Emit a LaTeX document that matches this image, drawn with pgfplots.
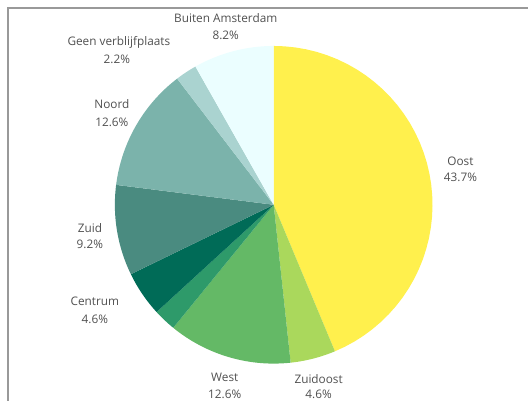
\documentclass[border=0pt]{standalone}
\usepackage{pgfplots}
\usepackage{pgfplotstable}
\pgfplotsset{compat=1.18}
\usepackage{fontspec}
\setmainfont{Open Sans}
\definecolor{slice0}{HTML}{FFF04D}
\definecolor{slice1}{HTML}{AAD85C}
\definecolor{slice2}{HTML}{64B966}
\definecolor{slice3}{HTML}{2E9A6A}
\definecolor{slice4}{HTML}{006B57}
\definecolor{slice5}{HTML}{4A8B80}
\definecolor{slice6}{HTML}{7BB3AB}
\definecolor{slice7}{HTML}{AAD3D0}
\definecolor{slice8}{HTML}{EBFEFF}
\definecolor{txt}{HTML}{505050}
\pgfplotstableread{
name pct
Oost 43.7
Zuidoost 4.6
West 12.6
Overig 2.3
Centrum 4.6
Zuid 9.2
Noord 12.6
Geen 2.2
Buiten 8.2
}\piedata
\begin{document}
\begin{tikzpicture}
\begin{axis}[
  width=529pt, height=401pt, scale only axis,
  xmin=0, xmax=529, ymin=0, ymax=401, y dir=reverse,
  hide axis, clip=false,
]
\def\cumsum{0}
\pgfplotsforeachungrouped \i in {0,...,8}{
  \pgfplotstablegetelem{\i}{pct}\of\piedata
  \let\val=\pgfplotsretval
  \pgfmathsetmacro\angA{\cumsum*3.6}
  \pgfmathsetmacro\angB{(\cumsum+\val)*3.6}
  \pgfmathsetmacro\cumsum{\cumsum+\val}
  \edef\doplot{\noexpand\addplot[draw=none, fill=slice\i, samples at={-1,0,1,...,40}]
    ({274+(x>=0)*159*sin(\angA+(\angB-\angA)*x/40)}, {205-(x>=0)*159*cos(\angA+(\angB-\angA)*x/40)});}
  \doplot
}
\path (axis cs:0,0) rectangle (axis cs:529,401);
\draw[color=gray!80, line width=1.2pt] (axis cs:8,401) -- (axis cs:8,8) -- (axis cs:529,8);
\begin{scope}[every node/.style={text=txt, font=\fontsize{11.8}{13}\selectfont, align=center, inner sep=0pt}]
\node at (axis cs:226,18) {Buiten Amsterdam};
\node at (axis cs:226,35) {8.2\%};
\node at (axis cs:119,42) {Geen verblijfplaats};
\node at (axis cs:117,59) {2.2\%};
\node at (axis cs:112,104) {Noord};
\node at (axis cs:112,122) {12.6\%};
\node at (axis cs:461,161) {Oost};
\node at (axis cs:461,178) {43.7\%};
\node at (axis cs:90,228) {Zuid};
\node at (axis cs:90,245) {9.2\%};
\node at (axis cs:95,302) {Centrum};
\node at (axis cs:95,320) {4.6\%};
\node at (axis cs:225,378) {West};
\node at (axis cs:225,395) {12.6\%};
\node at (axis cs:319,380) {Zuidoost};
\node at (axis cs:319,395) {4.6\%};
\end{scope}
\end{axis}
\end{tikzpicture}
\end{document}
